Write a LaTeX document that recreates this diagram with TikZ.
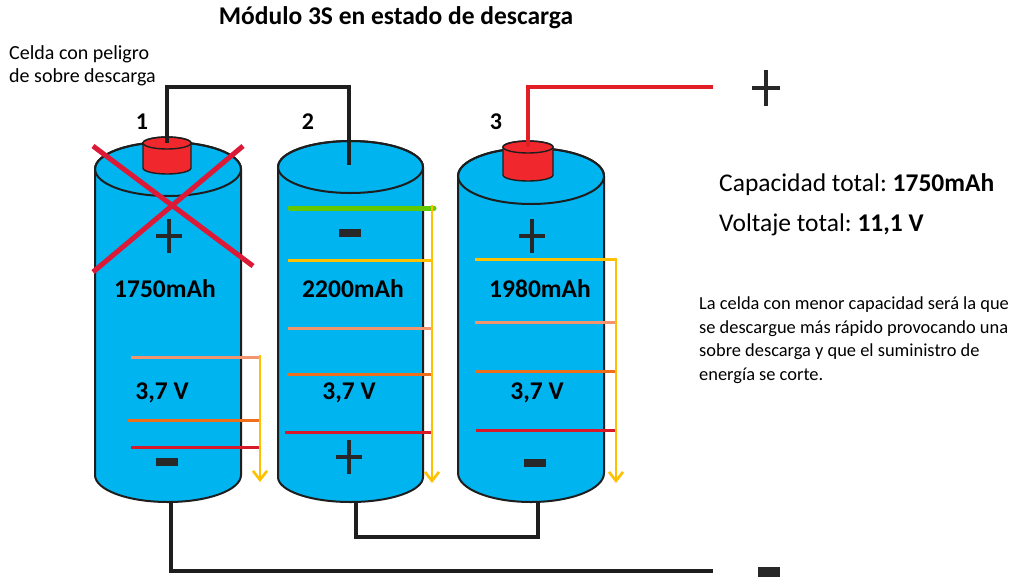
\documentclass[tikz,border=0pt]{standalone}
\usepackage{fontspec}
\setmainfont{Carlito}
\usetikzlibrary{arrows.meta}
\frenchspacing

\definecolor{cellblue}{RGB}{0,180,240}
\definecolor{outline}{RGB}{30,30,30}
\definecolor{capred}{RGB}{240,40,45}
\definecolor{wirered}{RGB}{225,30,35}
\definecolor{crossred}{RGB}{220,25,55}
\definecolor{lvyellow}{RGB}{255,192,0}
\definecolor{lvsalmon}{RGB}{242,148,110}
\definecolor{lvorange}{RGB}{238,110,25}
\definecolor{lvred}{RGB}{215,25,40}
\definecolor{lvgreen}{RGB}{100,200,0}
\definecolor{signcol}{RGB}{40,40,40}

\tikzset{
  cellbody/.style={fill=cellblue, draw=outline, line width=2pt},
  capbody/.style={fill=capred, draw=outline, line width=1.4pt},
  wire/.style={draw=outline, line width=4pt},
  redwire/.style={draw=wirered, line width=4pt},
  level/.style={line width=3pt},
  drain/.style={draw=lvyellow, line width=2.6pt, -{Straight Barb[length=9pt,width=14pt,line width=2.6pt]}},
  bigtxt/.style={font=\fontsize{25.5}{29}\selectfont\bfseries, inner sep=0pt},
  numtxt/.style={font=\fontsize{24}{28}\selectfont\bfseries, inner sep=0pt},
  plussign/.pic={
    \fill[signcol] (-13,-2.2) rectangle (13,2.2);
    \fill[signcol] (-2.2,-17) rectangle (2.2,17);
  },
  minussign/.pic={
    \fill[signcol] (-11,-4) rectangle (11,4);
  }
}

% cylindrical cell: left x, right x, top-ellipse y, bottom-ellipse y, top ry, bottom ry
\newcommand{\batterycell}[6]{%
  \pgfmathsetmacro{\cx}{(#1+#2)/2}
  \pgfmathsetmacro{\rx}{(#2-#1)/2}
  \path[cellbody] (#1,#3) -- (#1,#4)
     arc[start angle=180, end angle=0, x radius=\rx, y radius=#6]
     -- (#2,#3)
     arc[start angle=0, end angle=-180, x radius=\rx, y radius=#5] -- cycle;
  \draw[outline, line width=2pt] (\cx,#3) ellipse[x radius=\rx, y radius=#5];
}

% positive cap: centre x, half width, top y, bottom y
\newcommand{\batterycap}[4]{%
  \path[capbody] (#1-#2,#3) -- (#1-#2,#4)
     arc[start angle=180, end angle=0, x radius=#2, y radius=6]
     -- (#1+#2,#3)
     arc[start angle=0, end angle=-180, x radius=#2, y radius=6] -- cycle;
  \draw[outline, line width=1.4pt] (#1,#3) ellipse[x radius=#2, y radius=6];
}

\begin{document}
\begin{tikzpicture}[x=1pt, y=-1pt]
\useasboundingbox (0,0) rectangle (1017,576);
\fill[white] (0,0) rectangle (1017,576);

% terminals
\coordinate (t1) at (167,143);
\coordinate (t2) at (349,165);
\coordinate (t3) at (528,147);
\coordinate (b1) at (171,500);
\coordinate (b2) at (356,500);
\coordinate (b3) at (538,500);
\coordinate (outp) at (713,87);
\coordinate (outn) at (713,571);

% bottom wiring (behind the cells)
\draw[wire] (b1) |- (outn);
\draw[wire] (b2) -- ++(0,37) -| (b3);

% cells
\batterycell{95}{241}{169}{475}{27}{27}
\batterycell{278}{423}{167}{477}{26}{25}
\batterycell{458}{604}{176}{473}{28}{29}

\batterycap{167}{24}{143}{168}
\batterycap{528}{25}{147}{175}

% top wiring
\draw[wire] (t1) -- ++(0,-56) -| (t2);
\draw[redwire] (t3) |- (outp);

% output polarity marks
\pic (outplus) at (766,88) [scale=1.08] {plussign};
\fill[signcol] (758,567) rectangle (780,580);

% cell numbers
\node[numtxt] (n1) at (142,122) {1};
\node[numtxt] (n2) at (308,122) {2};
\node[numtxt] (n3) at (496,122) {3};

% cell 1
\draw[level, lvsalmon] (131,357) -- (260,357);
\draw[level, lvorange] (128,420) -- (260,420);
\draw[level, lvred]    (131,447) -- (260,447);
\draw[drain] (260,355) -- (260,482);
\pic at (169,236) {plussign};
\pic at (167,462) {minussign};
\node[bigtxt] (cap1) at (165,289) {1750mAh};
\node[bigtxt] (v1) at (162,393) {3,7 V};

% cell 2
\draw[line width=5pt, lvgreen, line cap=round] (290,208) -- (434,208);
\draw[level, lvyellow] (288,260) -- (432,260);
\draw[level, lvsalmon] (288,328) -- (432,328);
\draw[level, lvorange] (287,374) -- (433,374);
\draw[level, lvred]    (285,432) -- (432,432);
\draw[drain] (432,205) -- (432,483);
\pic at (349.5,233) {minussign};
\pic at (349,457) {plussign};
\node[bigtxt] (cap2) at (353,289) {2200mAh};
\node[bigtxt] (v2) at (349,393) {3,7 V};

% cell 3
\draw[level, lvyellow] (475,259) -- (617,259);
\draw[level, lvsalmon] (475,322) -- (617,322);
\draw[level, lvorange] (475,371) -- (617,371);
\draw[level, lvred]    (476,430) -- (617,430);
\draw[drain] (616,258) -- (616,483);
\pic at (532,236) {plussign};
\pic at (535,463) {minussign};
\node[bigtxt] (cap3) at (540,289) {1980mAh};
\node[bigtxt] (v3) at (537,393) {3,7 V};

% weak cell crossed out
\draw[crossred, line width=5pt] (93,146) -- (253,266);
\draw[crossred, line width=5pt] (243,146) -- (93,272);

% texts
\node[font=\fontsize{25.5}{30}\selectfont\bfseries, inner sep=0pt] (title) at (396,18) {Módulo 3S en estado de descarga};
\node[font=\fontsize{20}{22.5}\selectfont, align=left, anchor=west, inner sep=0pt] (warn) at (9,66) {Celda con peligro\\de sobre descarga};
\node[font=\fontsize{25.5}{29}\selectfont, anchor=west, inner sep=0pt] (captot) at (719,185) {Capacidad total: \textbf{1750mAh}};
\node[font=\fontsize{25.5}{29}\selectfont, anchor=west, inner sep=0pt] (volttot) at (719,225) {Voltaje total: \textbf{11,1 V}};
\node[font=\fontsize{18.4}{23.5}\selectfont, align=left, anchor=west, inner sep=0pt] (note) at (699,340)
  {La celda con menor capacidad será la que\\se descargue más rápido provocando una\\sobre descarga y que el suministro de\\energía se corte.};
\end{tikzpicture}
\end{document}
